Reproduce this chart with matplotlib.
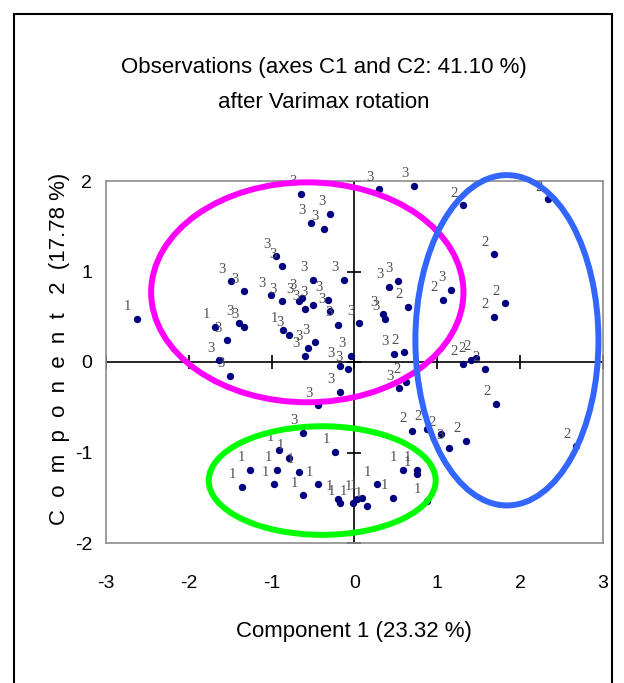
import matplotlib
matplotlib.use('Agg')
import matplotlib.pyplot as plt
from matplotlib.patches import Ellipse, Rectangle

# ---- observations (after Varimax rotation) ----
# group 3
x_g3 = [-1.49, -1.34, -1.01, -1.40, -1.33, -1.54, -1.63, -1.50, -0.64, -0.29,
        -0.53, -0.37, -0.95, -0.87, -0.50, -0.13, -0.87, -0.67, -0.63, -0.60,
        -0.50, -0.32, -0.29, -0.20, 0.06, -0.79, -0.48, -0.56, -0.60, -0.04,
        -0.18, -0.08, -0.18, -0.44, 0.30, 0.72, 0.53, 0.42, 0.34, 0.37,
        0.48, 1.16, 0.54, 1.14, -0.62]
y_g3 = [0.89, 0.78, 0.74, 0.43, 0.39, 0.24, 0.02, -0.15, 1.86, 1.64,
        1.54, 1.47, 1.17, 1.06, 0.91, 0.91, 0.67, 0.67, 0.71, 0.59,
        0.63, 0.69, 0.56, 0.41, 0.43, 0.30, 0.22, 0.15, 0.07, 0.07,
        -0.04, -0.08, -0.33, -0.48, 1.91, 1.95, 0.90, 0.83, 0.53, 0.48,
        0.09, 0.80, -0.29, -0.95, -0.78]

# group 2
x_g2 = [1.31, 2.33, 1.69, 1.07, 0.65, 1.82, 1.69, 0.60, 1.31, 1.41,
        1.47, 1.57, 1.71, 0.70, 0.87, 1.05, 1.35, 2.68, 0.62]
y_g2 = [1.73, 1.80, 1.19, 0.69, 0.61, 0.65, 0.50, 0.11, -0.02, 0.02,
        0.04, -0.08, -0.46, -0.76, -0.74, -0.80, -0.87, -0.93, -0.22]

# group 1
x_g1 = [-2.63, -1.68, -0.86, -0.91, -0.79, -0.23, -0.93, -0.67, -0.97, -0.44,
        -0.62, -0.20, -0.17, -0.02, 0.03, 0.09, 0.15, 0.27, 0.47, 0.58,
        0.75, 0.75, -1.26, -1.36, 0.87]
y_g1 = [0.48, 0.39, 0.35, -0.97, -1.06, -0.99, -1.19, -1.21, -1.35, -1.35,
        -1.47, -1.51, -1.56, -1.56, -1.51, -1.50, -1.59, -1.35, -1.50, -1.19,
        -1.19, -1.24, -1.19, -1.38, -1.54]

# ellipses drawn by hand around the groups: (centre x, centre y, width, height)
ell_g3 = (-0.57, 0.77, 3.77, 2.43)
ell_g2 = (1.84, 0.24, 2.21, 3.65)
ell_g1 = (-0.39, -1.31, 2.74, 1.20)

ticks_x = [-3, -2, -1, 0, 1, 2, 3]
ticks_y = [-2, -1, 0, 1, 2]

plt.rcParams['font.family'] = ['Liberation Sans', 'DejaVu Sans']
plt.rcParams['axes.unicode_minus'] = False

fig = plt.figure(figsize=(6.24, 6.83), dpi=100)
ax = fig.add_axes([106/624, 1 - 543/683, 497/624, 362/683])
ax.set_xlim(-3, 3)
ax.set_ylim(-2, 2)

for s in ax.spines.values():
    s.set_color('#8c8c8c')
    s.set_linewidth(1.2)

ax.set_xticks(ticks_x)
ax.set_yticks(ticks_y)
ax.tick_params(length=0, labelsize=14)
ax.tick_params(axis='x', pad=23)
ax.tick_params(axis='y', pad=10)

# axes through the origin with crossing ticks
ax.axhline(0, color='black', lw=1.2, zorder=1)
ax.axvline(0, color='black', lw=1.2, zorder=1)
ax.plot(ticks_x, [0] * len(ticks_x), ls='none', marker='|', ms=10, mew=1.2, color='black', zorder=1)
ax.plot([0] * len(ticks_y), ticks_y, ls='none', marker='_', ms=10, mew=1.2, color='black', zorder=1)

# points and their labels
for xs, ys, lab in [(x_g3, y_g3, '3'), (x_g2, y_g2, '2'), (x_g1, y_g1, '1')]:
    ax.scatter(xs, ys, s=28, color='#000080', zorder=3, linewidths=0)
    for xv, yv in zip(xs, ys):
        ax.annotate(lab, (xv, yv), xytext=(-9, 12), textcoords='offset pixels',
                    ha='center', va='center', fontsize=10.5, color='#505050',
                    family='Liberation Serif', zorder=4, annotation_clip=False)

for (cx, cy, w, h), col in [(ell_g3, '#ff00ff'), (ell_g2, '#3366ff'), (ell_g1, '#00ff00')]:
    ax.add_patch(Ellipse((cx, cy), w, h, fill=False, edgecolor=col, lw=4.3,
                         zorder=5, clip_on=False))

fig.text(324/624, 1 - 68/683, 'Observations (axes C1 and C2: 41.10 %)',
         ha='center', va='center', fontsize=16)
fig.text(324/624, 1 - 102/683, 'after Varimax rotation',
         ha='center', va='center', fontsize=16)
fig.text(354/624, 1 - 632/683, 'Component 1 (23.32 %)',
         ha='center', va='center', fontsize=16)
fig.text(60/624, 1 - 349/683, 'C  o  m  p  o  n  e  n  t   2  (17.78 %)',
         ha='center', va='center', fontsize=16, rotation=90)

# outer frame of the exported picture
fig.add_artist(Rectangle((14/624, -0.05), 598/624, 1 - 14/683 + 0.05,
                         transform=fig.transFigure, fill=False,
                         edgecolor='black', lw=1.5))

fig.savefig('out.png', dpi=100)
